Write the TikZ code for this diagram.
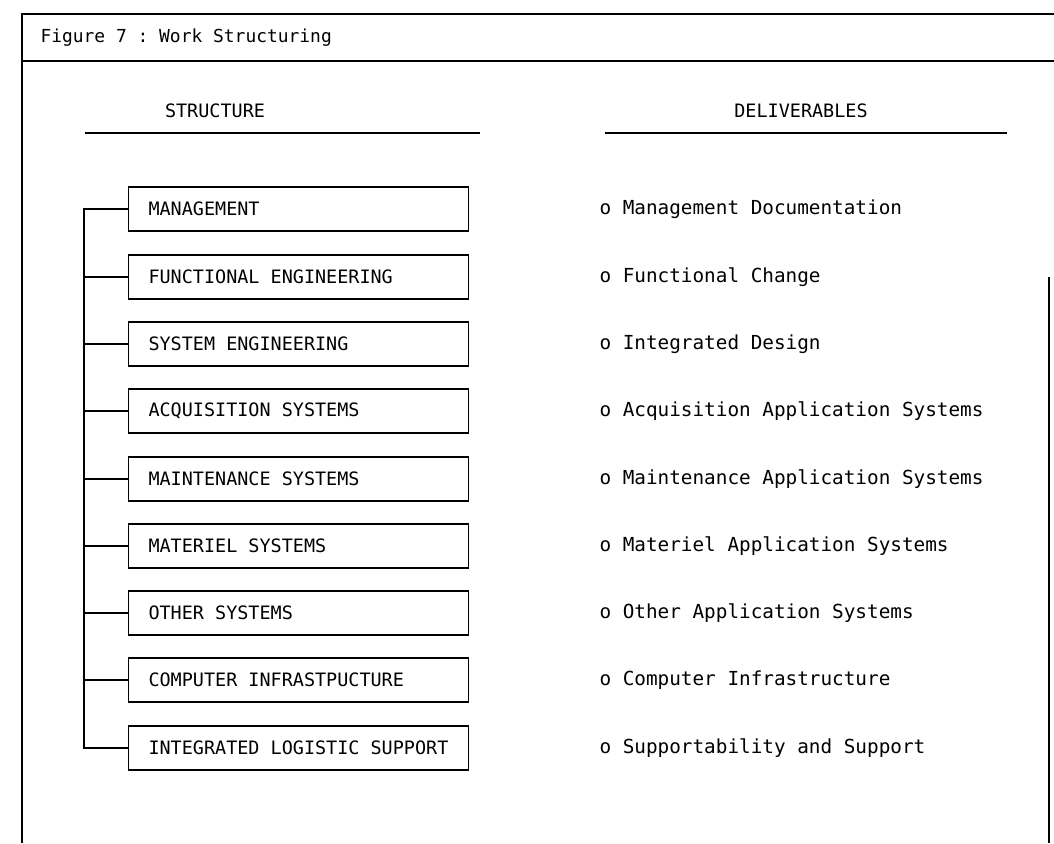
\documentclass[tikz,border=0pt]{standalone}
\usepackage{fontspec}
\setmonofont{DejaVu Sans Mono}
\usepackage{tikz}

\newcommand{\boxtxt}[1]{\makebox[6.0cm][l]{#1}}
\tikzset{
	box/.style={draw, anchor=west, inner xsep=0.4cm, minimum height=0.88cm},
	deliv/.style={anchor=west, inner sep=0pt, font=\ttfamily\fontsize{11}{13}\selectfont},
}

\begin{document}
\begin{tikzpicture}[x=0.02cm, y=-0.02cm, line width=0.6pt, font=\ttfamily\fontsize{10.5}{12}\selectfont]
			\useasboundingbox (0,0) rectangle (1054,843);
				% frame and header
				\draw (22,843) -- (22,14) -- (1054,14);
				\draw (22,61) -- (1054,61);
				\draw (1049,277) -- (1049,843);
				\node[anchor=west, inner sep=0pt, font=\ttfamily\fontsize{10.2}{12}\selectfont] (title) at (40,38) {Figure 7 : Work Structuring};
				% column heads
				\node (hs) at (215,111) {STRUCTURE};
				\node (hd) at (801,111) {DELIVERABLES};
				\draw (85,133) -- (480,133);
				\draw (605,133) -- (1007,133);
				% structure boxes
				\node[box] (A) at (128,209) {\boxtxt{MANAGEMENT}};
				\node[box] (B) at (128,277) {\boxtxt{FUNCTIONAL ENGINEERING}};
				\node[box] (C) at (128,344) {\boxtxt{SYSTEM ENGINEERING}};
				\node[box] (D) at (128,411) {\boxtxt{ACQUISITION SYSTEMS}};
				\node[box] (E) at (128,479) {\boxtxt{MAINTENANCE SYSTEMS}};
				\node[box] (F) at (128,546) {\boxtxt{MATERIEL SYSTEMS}};
				\node[box] (G) at (128,613) {\boxtxt{OTHER SYSTEMS}};
				\node[box] (H) at (128,680) {\boxtxt{COMPUTER INFRASTPUCTURE}};
				\node[box] (I) at (128,748) {\boxtxt{INTEGRATED LOGISTIC SUPPORT}};
				% trunk and branches
				\coordinate (T) at (84,209);
				\coordinate (U) at (84,748);
				\draw (A.west) -- (T) -- (U) -- (I.west);
				\draw (B.west) -- (B.west -| T);
				\draw (C.west) -- (C.west -| T);
				\draw (D.west) -- (D.west -| T);
				\draw (E.west) -- (E.west -| T);
				\draw (F.west) -- (F.west -| T);
				\draw (G.west) -- (G.west -| T);
				\draw (H.west) -- (H.west -| T);
				% deliverables
				\node[deliv] (a) at (599,209) {o Management Documentation};
				\node[deliv] (b) at (599,277) {o Functional Change};
				\node[deliv] (c) at (599,344) {o Integrated Design};
				\node[deliv] (d) at (599,411) {o Acquisition Application Systems};
				\node[deliv] (e) at (599,479) {o Maintenance Application Systems};
				\node[deliv] (f) at (599,546) {o Materiel Application Systems};
				\node[deliv] (g) at (599,613) {o Other Application Systems};
				\node[deliv] (h) at (599,680) {o Computer Infrastructure};
				\node[deliv] (i) at (599,748) {o Supportability and Support};
			\end{tikzpicture}
\end{document}
